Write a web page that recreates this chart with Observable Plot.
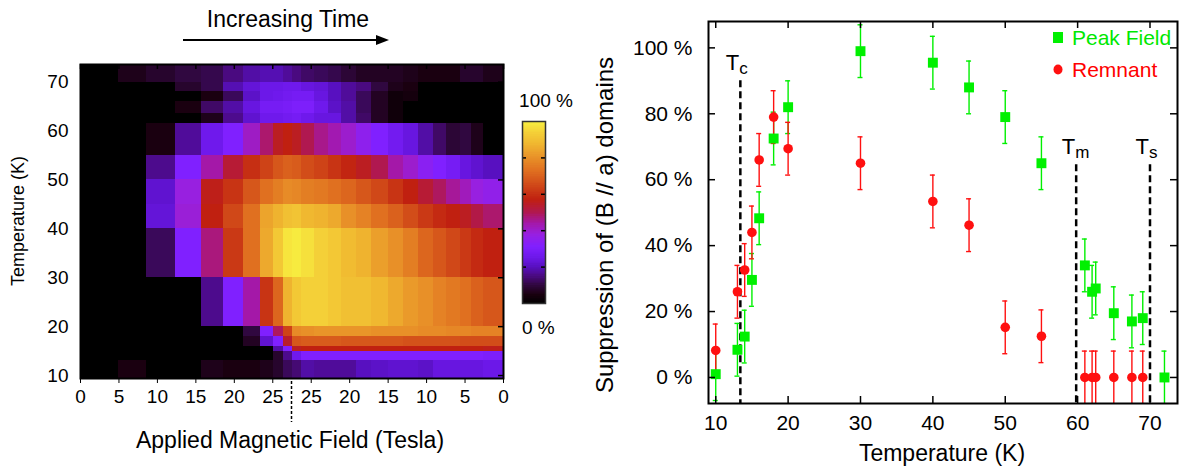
<!DOCTYPE html>
<html><head><meta charset="utf-8">
<script src="https://cdn.jsdelivr.net/npm/d3@7"></script>
<script src="https://cdn.jsdelivr.net/npm/@observablehq/plot@0.6"></script>
<style>
body{margin:0;background:#fff;}
#chart{position:relative;width:1179px;height:468px;overflow:hidden;font-family:"Liberation Sans",Arial,Helvetica,sans-serif;}
#chart > svg{position:absolute;}
</style></head><body><div id="chart"></div>
<script>
const FONT = '"Liberation Sans", Arial, Helvetica, sans-serif';

// ---------- Left panel: suppression map vs field sweep and temperature ----------
const peakField = 27.5;                       // Tesla, top of the sweep
const upFieldEdges = [0, 4.9, 8.6, 12.3, 15.7, 18.6, 21.2, 23.4, 25.1, 26.4, 27.5];
const downFieldEdges = [27.5, 26.3, 24.6, 22.8, 21, 19.1, 17.1, 15, 13, 11, 9.1, 7.4, 5.6, 4.1, 2.6, 0];
const tempEdges = [73.6, 70, 68, 66, 63.5, 61.5, 55, 50, 45, 40, 30, 20, 18, 16, 15, 13, 9.4];
// one row per temperature band (top to bottom), one value per field step (up sweep then down sweep), in %
const suppressionRows = [
  [0,6,8,10,11,15,18,19,19,17, 15,13,12,11,9,7,7,7,6,5,5,5,8,8,6],
  [0,0,0,8,11,19,23,25,25,26, 26,24,23,20,17,15,10,6,5,0,0,0,0,0,0],
  [0,0,0,0,5,12,21,25,26,27, 28,28,24,20,17,12,7,3,4,0,0,0,0,0,0],
  [0,0,0,5,13,18,24,28,28,29, 30,30,26,21,18,12,7,3,0,0,0,0,0,0,0],
  [0,0,0,0,6,16,22,26,26,27, 28,26,24,24,18,13,7,3,0,0,0,0,0,0,0],
  [0,0,5,17,26,31,41,48,55,57, 55,50,46,43,40,35,31,27,24,18,13,9,10,6,0],
  [0,0,16,31,44,53,60,64,68,70, 69,66,64,61,58,55,50,44,40,34,31,28,24,22,20],
  [0,0,22,38,56,61,68,73,76,79, 78,76,75,73,71,68,65,61,57,53,49,45,42,38,36],
  [0,0,23,39,57,65,73,84,87,90, 91,88,87,85,80,77,73,70,66,62,59,57,55,51,48],
  [0,0,12,31,47,62,73,85,92,98, 99,97,94,92,89,87,83,80,76,71,68,65,62,59,57],
  [0,0,0,0,16,31,44,61,71,87, 92,94,94,92,90,90,88,85,82,80,77,75,73,70,68],
  [0,0,0,0,0,0,10,31,49,64, 79,80,81,81,81,81,80,80,80,79,79,78,78,77,77],
  [0,0,0,0,0,0,7,22,31,54, 68,69,69,69,68,68,68,68,67,67,67,67,66,66,66],
  [0,0,0,0,0,0,0,0,18,31, 55,57,57,57,57,57,57,57,57,57,57,57,57,57,56],
  [0,0,0,0,0,0,0,0,8,16, 26,31,31,31,31,31,31,31,31,31,31,31,31,31,30],
  [0,5,0,0,6,5,5,6,8,12, 14,18,17,17,17,20,21,22,22,21,24,24,24,24,25]
];
const sweepTicks = [0, 5, 10, 15, 20, 25, 30, 35, 40, 45, 50, 55];
const tempTicks = [10, 20, 30, 40, 50, 60, 70];
const colorbarTicks = [20, 40, 60, 80];
const colorStops = [0, 5, 10, 15, 20, 25, 31, 38, 44, 50, 57, 65, 73, 80, 88, 94, 100];
const colorScheme = ["#000000","#1a0010","#300840","#4a0a80","#5810c0","#6c18e8","#8020ff","#9820e0","#a418a8","#b01850","#c02010","#d04818","#e07020","#e89028","#f0b830","#f4d038","#f8f040"];

// ---------- Right panel: suppression vs temperature ----------
const peakTemps  = [10, 13, 14, 15, 16, 18, 20, 30, 40, 45, 50, 55, 61, 62, 62.5, 65, 67.5, 69, 72];
const peakValues = [1, 8.4, 12.4, 29.6, 48.3, 72.5, 82, 99, 95.5, 88, 79, 65, 34, 26, 27, 19.5, 17, 18, 0];
const peakErrors = [8, 8, 8, 8, 8, 8, 8, 8, 8, 8, 8, 8, 8, 8, 8, 8, 8, 8, 8];
const remTemps   = [10, 13, 14, 15, 16, 18, 20, 30, 40, 45, 50, 55, 61, 62, 62.5, 65, 67.5, 69];
const remValues  = [8.2, 26, 32.6, 44, 66, 79, 69.4, 65, 53.4, 46.2, 15.2, 12.5, 0, 0, 0, 0, 0, 0];
const remErrors  = [8, 8, 8, 8, 8, 8, 8, 8, 8, 8, 8, 8, 8, 8, 8, 8, 8, 8];
const transitionTemps = [13.4, 59.8, 70];
const transitionTops  = [90, 64.5, 64.5];
const transitionSubs  = ["c", "m", "s"];
const pctTicks = [0, 20, 40, 60, 80, 100];
const tempTicksR = [10, 20, 30, 40, 50, 60, 70];

const GREEN = "#00f000", RED = "#ff1010";
const COLOR = {type: "linear", domain: colorStops, range: colorScheme, interpolate: "rgb"};

// build cells
const sweepEdges = [...upFieldEdges, ...downFieldEdges.slice(1).map(b => 2 * peakField - b)];
const cells = [];
suppressionRows.forEach((row, r) => row.forEach((v, c) => cells.push({
  x1: sweepEdges[c], x2: sweepEdges[c + 1], y1: tempEdges[r + 1], y2: tempEdges[r], v
})));

const chart = document.getElementById("chart");
const HW = 520, HH = 468, HL = 80, HR = 17, HT = 64, HB = 90;
const heat = Plot.plot({
  width: HW, height: HH, marginLeft: HL, marginRight: HR, marginTop: HT, marginBottom: HB,
  style: {fontFamily: FONT, fontSize: "19px", background: "transparent", color: "black"},
  x: {domain: [0, 2 * peakField]},
  y: {domain: d3.extent(tempEdges)},
  color: COLOR,
  marks: [
    Plot.rect(cells, {x1: "x1", x2: "x2", y1: "y1", y2: "y2", fill: "v", shapeRendering: "crispEdges"}),
    Plot.axisY(tempTicks, {tickSize: 0, tickPadding: 12, fontSize: 19, label: null}),
    Plot.axisX(sweepTicks, {tickSize: 5, tickPadding: 6, fontSize: 19, label: null,
      tickFormat: u => u <= peakField ? u : 2 * peakField - u}),
    Plot.tickX(sweepTicks, {x: d => d, insetBottom: HH - HT - HB - 5, stroke: "black", strokeWidth: 1.5}),
    Plot.tickY(tempTicks, {y: d => d, insetLeft: HW - HL - HR - 5, stroke: "black", strokeWidth: 1.5}),
    Plot.frame({stroke: "black", strokeWidth: 2})
  ]
});
heat.style.left = "0px"; heat.style.top = "0px";
chart.appendChild(heat);

const barStep = 1;
const barValues = d3.range(0, 100, barStep);
const bar = Plot.plot({
  width: 70, height: 468, marginLeft: 17, marginRight: 30, marginTop: 121, marginBottom: 165,
  style: {background: "transparent"},
  x: {domain: [0, 1], axis: null},
  y: {domain: [0, 100], axis: null},
  color: COLOR,
  marks: [
    Plot.rect(barValues, {x1: 0, x2: 1, y1: d => d, y2: d => d + barStep, fill: d => d + barStep / 2,
      stroke: d => d + barStep / 2, strokeWidth: 0.6, shapeRendering: "crispEdges"}),
    Plot.tickY(colorbarTicks, {y: d => d, insetRight: 23 - 4, stroke: "black", strokeWidth: 1.5}),
    Plot.tickY(colorbarTicks, {y: d => d, insetLeft: 23 - 4, stroke: "black", strokeWidth: 1.5}),
    Plot.frame({stroke: "#333", strokeWidth: 1.5})
  ]
});
bar.style.left = "505px"; bar.style.top = "0px";
chart.appendChild(bar);

const peakData = peakTemps.map((T, i) => ({T, v: peakValues[i], e: peakErrors[i]}));
const remData = remTemps.map((T, i) => ({T, v: remValues[i], e: remErrors[i]}));
const transData = transitionTemps.map((T, i) => ({T, top: transitionTops[i], sub: transitionSubs[i]}));
const yDom = [-7.9, 108];
const SW = 589, SH = 468, SL = 118, SR = 2, ST = 21, SB = 65;
const innerW = SW - SL - SR, innerH = SH - ST - SB;
const errMarks = (data, color) => [
  Plot.ruleX(data, {x: "T", y1: d => d.v - d.e, y2: d => d.v + d.e, stroke: color, strokeWidth: 1.4}),
  Plot.ruleY(data, {y: d => d.v + d.e, x1: "T", x2: "T", insetLeft: -2.5, insetRight: -2.5, stroke: color, strokeWidth: 1.4}),
  Plot.ruleY(data, {y: d => d.v - d.e, x1: "T", x2: "T", insetLeft: -2.5, insetRight: -2.5, stroke: color, strokeWidth: 1.4})
];
const sc = Plot.plot({
  width: SW, height: SH, marginLeft: SL, marginRight: SR, marginTop: ST, marginBottom: SB,
  style: {fontFamily: FONT, fontSize: "21px", background: "transparent", color: "black"},
  x: {domain: [9, 73.8]},
  y: {domain: yDom},
  clip: true,
  marks: [
    Plot.ruleX(transData, {x: "T", y1: "top", y2: yDom[0], stroke: "black", strokeWidth: 2.5, strokeDasharray: "7,4"}),
    ...errMarks(peakData, GREEN),
    ...errMarks(remData, RED),
    Plot.dot(peakData, {x: "T", y: "v", symbol: "square", r: 5.6, fill: GREEN, stroke: null}),
    Plot.dot(remData, {x: "T", y: "v", r: 4.8, fill: RED, stroke: null}),
    Plot.axisY(pctTicks, {tickSize: 0, tickPadding: 16, fontSize: 21, label: null, tickFormat: d => `${d} %`}),
    Plot.axisX(tempTicksR, {tickSize: 0, tickPadding: 12, fontSize: 21, label: null}),
    Plot.tickY(pctTicks, {y: d => d, insetRight: innerW - 7, stroke: "black", strokeWidth: 1.5}),
    Plot.tickY(pctTicks, {y: d => d, insetLeft: innerW - 7, stroke: "black", strokeWidth: 1.5}),
    Plot.tickX(tempTicksR, {x: d => d, insetTop: innerH - 7, stroke: "black", strokeWidth: 1.5}),
    Plot.tickX(tempTicksR, {x: d => d, insetBottom: innerH - 7, stroke: "black", strokeWidth: 1.5}),
    Plot.frame({stroke: "black", strokeWidth: 2})
  ]
});
sc.style.left = "590px"; sc.style.top = "0px";
chart.appendChild(sc);

// ---------- annotation overlay (texts, arrow, legend) ----------
const NS = "http://www.w3.org/2000/svg";
const ov = document.createElementNS(NS, "svg");
ov.setAttribute("width", 1179); ov.setAttribute("height", 468);
ov.style.left = "0px"; ov.style.top = "0px"; ov.style.pointerEvents = "none";
ov.setAttribute("font-family", FONT);
chart.appendChild(ov);
function el(tag, attrs, text) {
  const e = document.createElementNS(NS, tag);
  for (const k in attrs) e.setAttribute(k, attrs[k]);
  if (text != null) e.textContent = text;
  ov.appendChild(e);
  return e;
}
const hx = heat.scale("x"), sx = sc.scale("x"), sy = sc.scale("y");
// top arrow
el("text", {x: 288, y: 27, "font-size": 23, "text-anchor": "middle"}, "Increasing Time");
el("line", {x1: 183, y1: 40, x2: 378, y2: 40, stroke: "black", "stroke-width": 2});
el("path", {d: "M376,35 L389,40 L376,45 Z", fill: "black"});
// left axis labels
el("text", {x: 0, y: 0, "font-size": 18, "text-anchor": "middle", "dominant-baseline": "middle",
  transform: "translate(19,221) rotate(-90)"}, "Temperature (K)");
el("text", {x: 290, y: 448, "font-size": 23, "text-anchor": "middle"}, "Applied Magnetic Field (Tesla)");
const px = hx.apply(peakField);
el("line", {x1: px, y1: 381, x2: px, y2: 422, stroke: "black", "stroke-width": 1.5, "stroke-dasharray": "3,2"});
// colorbar labels
el("text", {x: 546, y: 107, "font-size": 19, "text-anchor": "middle"}, "100 %");
el("text", {x: 522, y: 334, "font-size": 19, "text-anchor": "start"}, "0 %");
// right axis labels
el("text", {x: 0, y: 0, "font-size": 24, "text-anchor": "middle", "dominant-baseline": "middle",
  transform: "translate(607,225) rotate(-90)"}, "Suppression of (B // a) domains");
el("text", {x: 942, y: 461, "font-size": 23, "text-anchor": "middle"}, "Temperature (K)");
// transition labels
transData.forEach(d => {
  const t = el("text", {x: 590 + sx.apply(d.T) - 14, y: sy.apply(d.top) - 10, "font-size": 22}, "T");
  const s = document.createElementNS(NS, "tspan");
  s.setAttribute("font-size", 17); s.setAttribute("dy", 4); s.textContent = d.sub;
  t.appendChild(s);
});
// legend
el("rect", {x: 1053, y: 32, width: 10, height: 11, fill: GREEN});
el("text", {x: 1072, y: 45, "font-size": 21, fill: "#00e800"}, "Peak Field");
el("ellipse", {cx: 1058, cy: 69.5, rx: 4.5, ry: 5, fill: RED});
el("text", {x: 1072, y: 77, "font-size": 21, fill: "#ff0000"}, "Remnant");
</script></body></html>
